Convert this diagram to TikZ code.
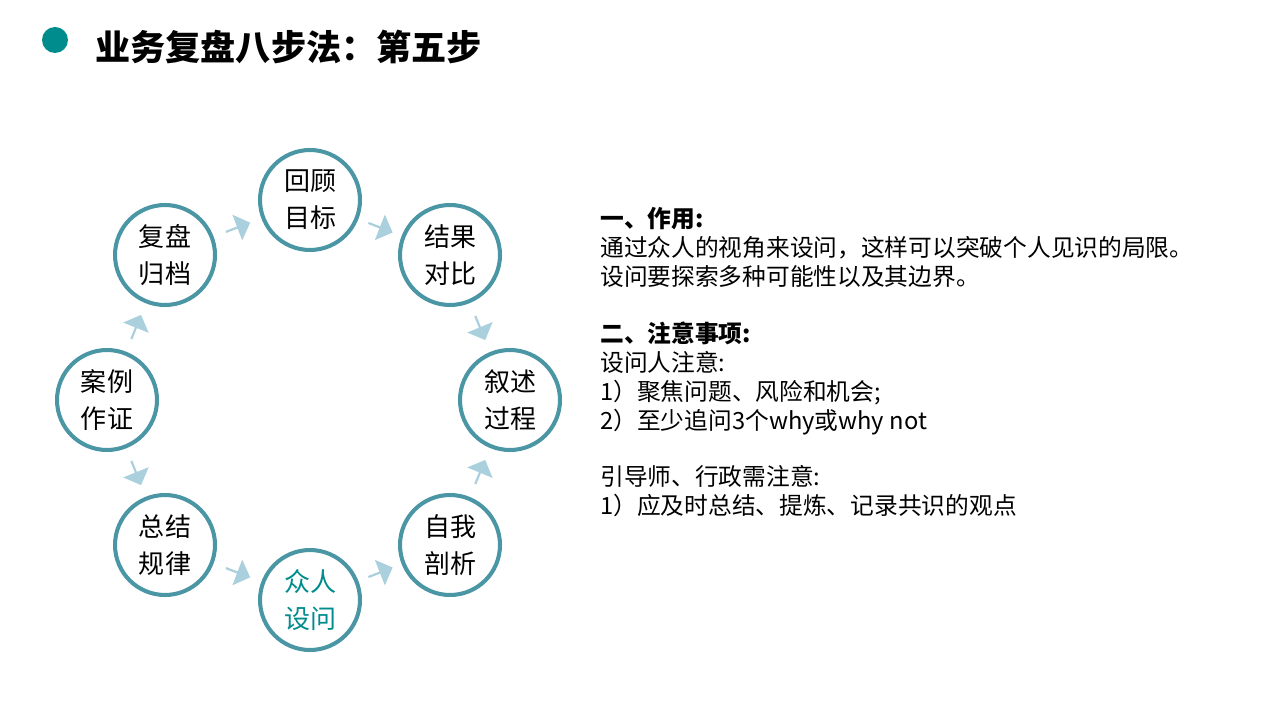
\documentclass[tikz,border=0pt]{standalone}
\usepackage{fontspec}
\setmainfont{Noto Sans CJK SC}
\usetikzlibrary{shapes.arrows}
\definecolor{ring}{RGB}{75,150,165}
\definecolor{arr}{RGB}{170,208,222}
\definecolor{teal}{RGB}{0,140,140}
\begin{document}
\begin{tikzpicture}[x=0.02cm,y=-0.02cm,
  stepc/.style={circle,draw=ring,line width=2.3pt,fill=white,minimum size=2cm,inner sep=0pt,align=center,font=\fontsize{14.8}{21}\selectfont},
  arrw/.style={single arrow,fill=arr,draw=none,minimum height=0.52cm,minimum width=0.55cm,single arrow head extend=0.08cm,inner sep=0pt,sloped},
  body/.style={anchor=north west,align=left,font=\fontsize{13.5}{16.5}\selectfont,inner sep=0pt}]
\useasboundingbox (0,0) rectangle (1280,719);
\fill[white] (0,0) rectangle (1280,719);
\fill[teal] (55,40) circle (13);
\node[anchor=west,font=\fontsize{20}{24}\selectfont\bfseries,inner sep=0pt] (title) at (95,47) {业务复盘八步法：第五步};
\node[stepc] (c1) at (310,200) {回顾\\目标};
\node[stepc] (c2) at (450,255) {结果\\对比};
\node[stepc] (c3) at (510,400) {叙述\\过程};
\node[stepc] (c4) at (450,545) {自我\\剖析};
\node[stepc,text=teal] (c5) at (310,600) {众人\\设问};
\node[stepc] (c6) at (165,545) {总结\\规律};
\node[stepc] (c7) at (107,400) {案例\\作证};
\node[stepc] (c8) at (165,255) {复盘\\归档};
\foreach \a/\b in {c8/c1,c1/c2,c2/c3,c3/c4,c4/c5,c5/c6,c6/c7,c7/c8}
  \path (\a.center) -- node[arrw]{} (\b.center);
\node[body] (t1) at (600,207) {\textbf{一、作用:}\\通过众人的视角来设问，这样可以突破个人见识的局限。\\设问要探索多种可能性以及其边界。};
\node[body] (t2) at (600,322) {\textbf{二、注意事项:}\\设问人注意:\\1）聚焦问题、风险和机会;\\2）至少追问3个why或why not};
\node[body] (t3) at (600,465) {引导师、行政需注意:\\1）应及时总结、提炼、记录共识的观点};
\end{tikzpicture}
\end{document}
